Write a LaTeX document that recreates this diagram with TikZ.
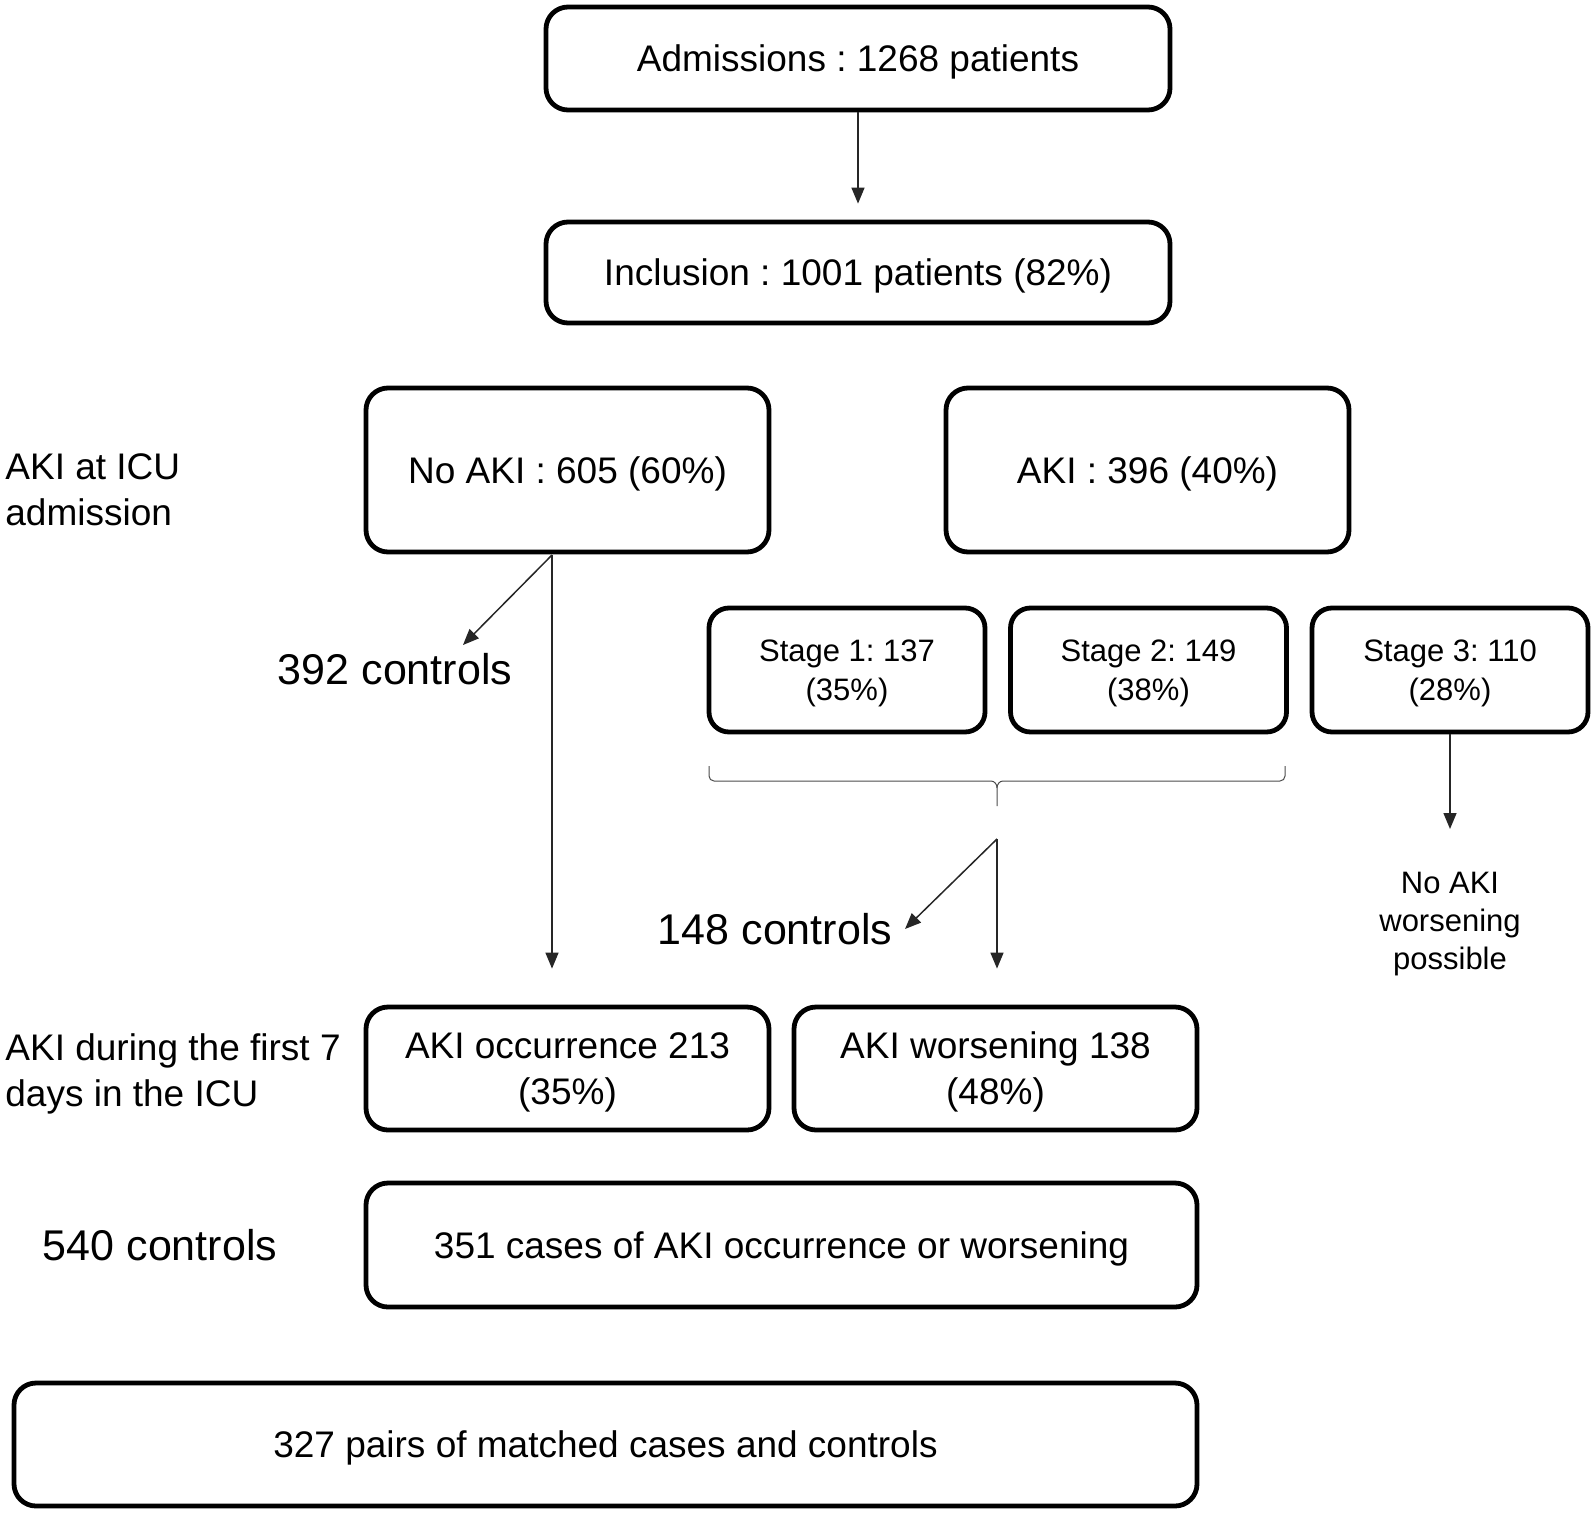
\documentclass[tikz,border=0pt]{standalone}
\usepackage{fontspec}
\setmainfont{Liberation Sans}
\usetikzlibrary{arrows.meta}
\frenchspacing
\begin{document}
\begin{tikzpicture}[x=0.5pt,y=-0.5pt,
  bigbox/.style={draw=black,line width=2.4pt,rounded corners=11pt,inner sep=0pt,align=center,
    text depth=0pt,font=\fontsize{18.5}{23}\selectfont},
  stagebox/.style={draw=black,line width=2.4pt,rounded corners=10pt,inner sep=0pt,align=center,
    text depth=0pt,minimum width=138pt,minimum height=62pt,font=\fontsize{15.5}{19.3}\selectfont},
  lbl/.style={inner sep=0pt,align=left,anchor=west,font=\fontsize{18.5}{23}\selectfont},
  ctl/.style={inner sep=0pt,font=\fontsize{21.5}{26}\selectfont},
  conn/.style={line width=0.75pt,draw=black!85,-{Triangle[length=8pt,width=6.5pt]}},
  bracestyle/.style={line width=0.5pt,draw=black!70}
]
\useasboundingbox (0,0) rectangle (1595,1515);

\node[bigbox,minimum width=312pt,minimum height=51.5pt] (adm) at (858,58.5) {Admissions : 1268 patients};
\node[bigbox,minimum width=312pt,minimum height=50.5pt] (inc) at (858,272.5) {Inclusion : 1001 patients (82\%)};
\draw[conn,shorten >=8pt] (adm) -- (inc);

\node[lbl] (lab1) at (5,490) {AKI at ICU\\admission};
\node[bigbox,minimum width=201.5pt,minimum height=82pt] (noaki) at (567.5,470) {No AKI : 605 (60\%)};
\node[bigbox,minimum width=201.5pt,minimum height=82pt] (aki) at (1147.5,470) {AKI : 396 (40\%)};

\node[stagebox] (st1) at (847,670) {Stage 1: 137\\(35\%)};
\node[stagebox] (st2) at (1148.5,670) {Stage 2: 149\\(38\%)};
\node[stagebox] (st3) at (1450,670) {Stage 3: 110\\(28\%)};

\node[ctl] (c392) at (395,669) {392 controls};
\node[ctl] (c148) at (775,929) {148 controls};
\node[inner sep=0pt,align=center,font=\fontsize{15.5}{18.8}\selectfont] (noposs) at (1450,924) {No AKI\\worsening\\possible};

\node[lbl] (lab2) at (5,1074) {AKI during the first 7\\days in the ICU};
\node[bigbox,minimum width=201.5pt,minimum height=61.5pt] (occ) at (567.5,1068.5) {AKI occurrence 213\\(35\%)};
\node[bigbox,minimum width=201.5pt,minimum height=61.5pt] (wors) at (995.5,1068.5) {AKI worsening 138\\(48\%)};

\node[ctl] (c540) at (160,1245) {540 controls};
\node[bigbox,minimum width=415.5pt,minimum height=62pt] (cases) at (781.5,1245) {351 cases of AKI occurrence or worsening};
\node[bigbox,minimum width=591.5pt,minimum height=61.5pt] (pairs) at (605.5,1444.5) {327 pairs of matched cases and controls};

% left branch
\coordinate (s1) at (552,555);
\coordinate (t392) at (463,645);
\draw[conn] (s1) -- (t392);
\draw[conn,shorten >=18pt] (s1) -- (s1 |- occ.north);

% brace
\coordinate (bl) at (709,766);
\coordinate (br) at (1285,766);
\coordinate (btip) at (997,806);
\draw[bracestyle] (bl) -- (709,776) to[out=-90,in=180] (714,781) -- (991,781)
  to[out=0,in=90] (997,788) -- (btip);
\draw[bracestyle] (br) -- (1285,776) to[out=-90,in=0] (1280,781) -- (1003,781)
  to[out=180,in=90] (997,788);

% right branch
\coordinate (s2) at (997,839);
\coordinate (t148) at (905,929);
\draw[conn] (s2) -- (t148);
\draw[conn,shorten >=18pt] (s2) -- (s2 |- wors.north);

\coordinate (t3) at (1450,829);
\draw[conn] (st3.south) -- (t3);
\end{tikzpicture}
\end{document}
